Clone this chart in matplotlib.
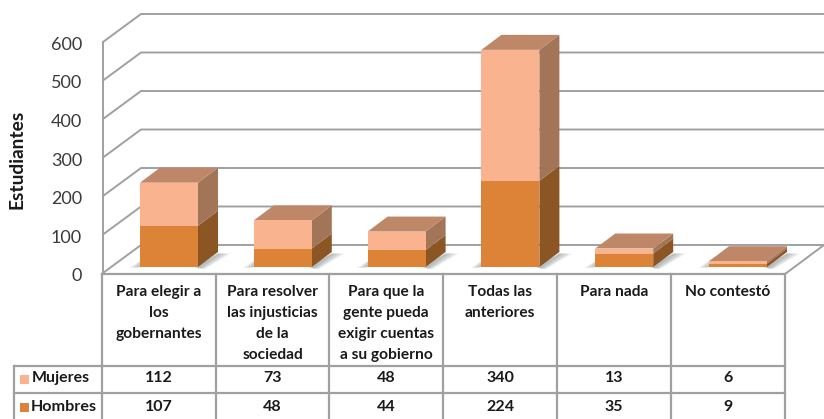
import numpy as np
import matplotlib
matplotlib.use("Agg")
import matplotlib.pyplot as plt
from matplotlib.patches import Polygon, Rectangle

categorias = ["Para elegir a\nlos\ngobernantes",
              "Para resolver\nlas injusticias\nde la\nsociedad",
              "Para que la\ngente pueda\nexigir cuentas\na su gobierno",
              "Todas las\nanteriores",
              "Para nada",
              "No contestó"]
mujeres = [112, 73, 48, 340, 13, 6]
hombres = [107, 48, 44, 224, 35, 9]
ticks = [0, 100, 200, 300, 400, 500, 600]

C_MUJ = "#F9B48F"
C_HOM = "#DC8338"
C_MUJ_SIDE = "#A37558"
C_HOM_SIDE = "#8B5524"
C_TOP = "#BE8768"
C_LINE = "#A0A0A0"
C_TXT = "#1A1A1A"
FONT = "Lato"

W, H = 824, 419
PX_X = 113.8   # pixels per category
PX_Y = 0.385   # pixels per student
X0, Y0 = 169, 267   # first bar centre, bar floor
DX, DY = 20 / PX_X, 15 / PX_Y   # depth of bars, in data units

fig = plt.figure(figsize=(W / 100, H / 100), dpi=100, facecolor="white")

# background axes in pixels, for walls and table
bg = fig.add_axes([0, 0, 1, 1], zorder=1)
bg.set_xlim(0, W)
bg.set_ylim(H, 0)
bg.axis("off")

# walls
for v in ticks:
    yb = 245 - v * PX_Y
    yf = 273 - v * PX_Y
    bg.plot([103, 141, W], [yf, yb, yb], color=C_LINE, lw=1.4, solid_joinstyle="miter")
    bg.text(82, yf + 3, str(v), ha="right", va="center", fontsize=13, color="#3A3A3A", family=FONT)
bg.plot([103, 103], [273, 273 - 600 * PX_Y], color=C_LINE, lw=1.4)
bg.plot([785, W], [274, 245], color=C_LINE, lw=1.4)
bg.text(17, 159, "Estudiantes", rotation=90, ha="center", va="center", fontsize=13.8,
        color=C_TXT, family=FONT, fontweight="bold")

# bars, in data units
ax = fig.add_axes([0, 0, 1, 1], zorder=2)
ax.set_xlim(-X0 / PX_X, (W - X0) / PX_X)
ax.set_ylim((Y0 - H) / PX_Y, Y0 / PX_Y)
ax.axis("off")
ax.patch.set_alpha(0)

x = np.arange(len(categorias))
w = 58 / PX_X
muj = np.array(mujeres)
hom = np.array(hombres)

for i in x:
    # soft shadow on the floor
    for k in range(6):
        s = 1 - k / 6
        ax.add_patch(Polygon([(i + w / 2 - 3 / PX_X, 0),
                              (i + w / 2 + DX, 0.9 * DY),
                              (i + w / 2 + DX + 13 * s / PX_X, 0.9 * DY),
                              (i + w / 2 + 7 * s / PX_X, -2 / PX_Y)],
                             fc="#6E7B7B", ec="none", alpha=0.1, zorder=1))
        ax.add_patch(Polygon([(i - w / 2, 0),
                              (i - w / 2 - 11 * s / PX_X, -1 / PX_Y),
                              (i - w / 2 + 6 / PX_X, 10 / PX_Y),
                              (i - w / 2 + 6 / PX_X, 0)],
                             fc="#6E7B7B", ec="none", alpha=0.1, zorder=1))
    r = i + w / 2
    l = i - w / 2
    h = hom[i]
    t = hom[i] + muj[i]
    ax.add_patch(Polygon([(r, 0), (r + DX, DY), (r + DX, h + DY), (r, h)], fc=C_HOM_SIDE, ec="none", zorder=2))
    ax.add_patch(Polygon([(r, h), (r + DX, h + DY), (r + DX, t + DY), (r, t)], fc=C_MUJ_SIDE, ec="none", zorder=2))
    ax.add_patch(Polygon([(l, t), (r, t), (r + DX, t + DY), (l + DX, t + DY)], fc=C_TOP, ec="none", zorder=2))

ax.bar(x, hom, width=w, color=C_HOM, zorder=3)
ax.bar(x, muj, width=w, bottom=hom, color=C_MUJ, zorder=3)

# data table, on top
fg = fig.add_axes([0, 0, 1, 1], zorder=3)
fg.set_xlim(0, W)
fg.set_ylim(H, 0)
fg.axis("off")
fg.patch.set_alpha(0)

cols = [102, 216, 329, 443, 557, 671, 785]
for c in cols:
    fg.plot([c, c], [274, H], color=C_LINE, lw=1.6)
fg.plot([102, 785], [274, 274], color=C_LINE, lw=1.6)
fg.plot([14, 785], [365.5, 365.5], color=C_LINE, lw=1.6)
fg.plot([14, 785], [393, 393], color=C_LINE, lw=1.6)
fg.plot([14, 14], [365.5, H], color=C_LINE, lw=1.6)

for i, cat in enumerate(categorias):
    cx = (cols[i] + cols[i + 1]) / 2
    for j, linea in enumerate(cat.split("\n")):
        fg.text(cx, 292 + j * 21, linea, ha="center", va="center", fontsize=11.2,
                color=C_TXT, family=FONT, fontweight="bold")
    fg.text(cx, 378, str(mujeres[i]), ha="center", va="center", fontsize=11.5, color=C_TXT, family=FONT, fontweight="bold")
    fg.text(cx, 407, str(hombres[i]), ha="center", va="center", fontsize=11.5, color=C_TXT, family=FONT, fontweight="bold")

fg.add_patch(Rectangle((20, 375), 9, 9, fc=C_MUJ, ec="none"))
fg.add_patch(Rectangle((20, 403), 9, 9, fc=C_HOM, ec="none"))
fg.text(32, 378, "Mujeres", ha="left", va="center", fontsize=11.4, color=C_TXT, family=FONT, fontweight="bold")
fg.text(31, 407, "Hombres", ha="left", va="center", fontsize=11.6, color=C_TXT, family=FONT, fontweight="bold")

fig.savefig("out.png", dpi=100)
